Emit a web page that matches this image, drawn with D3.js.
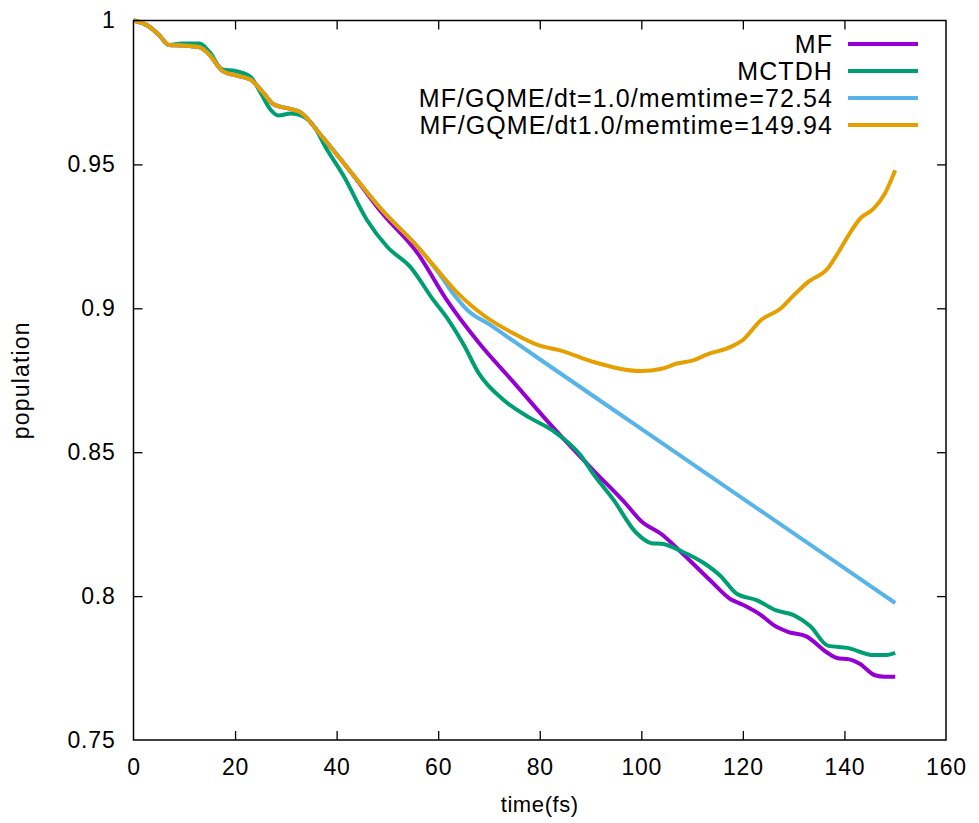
<!DOCTYPE html>
<html>
<head>
<meta charset="utf-8">
<script src="https://cdn.jsdelivr.net/npm/d3@7"></script>
<style>
  body { margin: 0; background: #fff; }
  text { font-family: "Liberation Sans", Arial, Helvetica, sans-serif; fill: #000; }
</style>
</head>
<body>
<script>
// Series data: time (fs) and population
const mfTime = [0, 3, 5, 7, 9.5, 13, 15, 17.5, 20, 23, 25.5, 27.5, 31, 33, 36.5, 42.5, 49, 56, 61.7, 68, 75, 81.5, 90.5, 97, 100, 104, 108, 113.5, 117.5, 120, 123.5, 126, 129, 132.5, 136.5, 138.5, 141, 143, 146, 148, 150];
const mfPop = [1.0, 0.998, 0.995, 0.9915, 0.9913, 0.9907, 0.988, 0.9825, 0.981, 0.9795, 0.975, 0.971, 0.9692, 0.968, 0.961, 0.948, 0.933, 0.919, 0.9028, 0.888, 0.874, 0.8608, 0.8438, 0.832, 0.826, 0.8215, 0.815, 0.8056, 0.799, 0.797, 0.7935, 0.790, 0.7875, 0.786, 0.7805, 0.7785, 0.778, 0.7765, 0.7725, 0.772, 0.772];

const mctdhTime = [0, 3, 5, 7, 9.5, 13, 15, 17.5, 20, 23, 25, 27, 28.5, 31, 33, 36, 37.5, 41.5, 46, 50, 54.5, 59, 62, 65, 68, 73, 78, 82.5, 88, 90.5, 94.5, 99, 102, 104, 108, 112.3, 115.6, 118.8, 122.7, 126.6, 130, 133.3, 136.7, 140.6, 145.8, 148, 150];
const mctdhPop = [1.0, 0.998, 0.995, 0.9915, 0.992, 0.992, 0.989, 0.983, 0.9825, 0.9805, 0.975, 0.969, 0.967, 0.9677, 0.967, 0.962, 0.957, 0.9456, 0.9306, 0.9213, 0.9144, 0.903, 0.896, 0.8874, 0.8774, 0.868, 0.862, 0.8576, 0.849, 0.8426, 0.8335, 0.822, 0.8184, 0.8182, 0.8155, 0.8115, 0.807, 0.8008, 0.7986, 0.795, 0.7934, 0.7895, 0.7828, 0.782, 0.7795, 0.7795, 0.7803];

const gqme72Time = [0, 3, 5, 7, 9.5, 13, 15, 17.5, 20, 23, 25.5, 27.5, 31, 33, 36.5, 42.5, 49, 56, 60, 63, 66, 70, 75, 80, 100, 120, 140, 150];
const gqme72Pop = [1.0, 0.998, 0.995, 0.9915, 0.9913, 0.9907, 0.988, 0.9825, 0.981, 0.9795, 0.975, 0.971, 0.9692, 0.968, 0.961, 0.948, 0.934, 0.9213, 0.9125, 0.905, 0.899, 0.8945, 0.8884, 0.8823, 0.8581, 0.8339, 0.8097, 0.7976];

const gqme150Time = [0, 3, 5, 7, 9.5, 13, 15, 17.5, 20, 23, 25.5, 27.5, 31, 33, 36.5, 42.5, 49, 56, 60, 64, 69, 74.8, 80, 84, 90.5, 100, 104, 107, 110, 113, 117.6, 120, 123.5, 127.5, 130, 132.8, 136.7, 139, 141.2, 143, 145.8, 148, 150];
const gqme150Pop = [1.0, 0.998, 0.995, 0.9915, 0.9913, 0.9907, 0.988, 0.9825, 0.981, 0.9795, 0.975, 0.971, 0.9692, 0.968, 0.961, 0.948, 0.934, 0.9213, 0.913, 0.905, 0.8975, 0.8913, 0.887, 0.8854, 0.8814, 0.8782, 0.879, 0.8808, 0.8818, 0.884, 0.8866, 0.889, 0.8958, 0.900, 0.9045, 0.9091, 0.9138, 0.920, 0.9265, 0.931, 0.9347, 0.940, 0.948];

const seriesNames = ["MF", "MCTDH", "MF/GQME/dt=1.0/memtime=72.54", "MF/GQME/dt1.0/memtime=149.94"];
const seriesColors = ["#9400d3", "#009e73", "#56b4e9", "#e69f00"];

const xTicks = [0, 20, 40, 60, 80, 100, 120, 140, 160];
const yTicks = [0.75, 0.8, 0.85, 0.9, 0.95, 1];

const series = [
    { name: seriesNames[0], color: seriesColors[0], values: mfTime.map((t, i) => ({ t, p: mfPop[i] })) },
    { name: seriesNames[1], color: seriesColors[1], values: mctdhTime.map((t, i) => ({ t, p: mctdhPop[i] })) },
    { name: seriesNames[2], color: seriesColors[2], values: gqme72Time.map((t, i) => ({ t, p: gqme72Pop[i] })) },
    { name: seriesNames[3], color: seriesColors[3], values: gqme150Time.map((t, i) => ({ t, p: gqme150Pop[i] })) }
];

// Layout
const W = 979, H = 823;
const margin = { top: 20.5, right: 33, bottom: 83, left: 133.5 };
const width = W - margin.left - margin.right;
const height = H - margin.top - margin.bottom;

const svg = d3.select("body").append("svg")
    .attr("width", W)
    .attr("height", H);

const g = svg.append("g")
    .attr("transform", `translate(${margin.left},${margin.top})`);

const x = d3.scaleLinear().domain([0, 160]).range([0, width]);
const y = d3.scaleLinear().domain([0.75, 1]).range([height, 0]);

// Clip lines to plot area
svg.append("clipPath").attr("id", "plotclip")
  .append("rect")
    .attr("x", 0).attr("y", -3)
    .attr("width", width).attr("height", height + 3);

const line = d3.line()
    .x(d => x(d.t))
    .y(d => y(d.p))
    .curve(d3.curveMonotoneX);

g.append("g")
    .attr("clip-path", "url(#plotclip)")
  .selectAll("path")
    .data(series)
    .enter()
    .append("path")
    .attr("d", d => line(d.values))
    .attr("fill", "none")
    .attr("stroke", d => d.color)
    .attr("stroke-width", 4)
    .attr("stroke-linejoin", "round")
    .attr("stroke-linecap", "butt");

// Axes with inward ticks on all four sides (gnuplot style)
const tickLen = 9;
const bottomAxis = d3.axisBottom(x).tickValues(xTicks).tickSizeInner(-tickLen).tickSizeOuter(0).tickPadding(19).tickFormat(d3.format("d"));
const topAxis = d3.axisTop(x).tickValues(xTicks).tickSizeInner(-tickLen).tickSizeOuter(0).tickFormat("");
const leftAxis = d3.axisLeft(y).tickValues(yTicks).tickSizeInner(-tickLen).tickSizeOuter(0).tickPadding(18).tickFormat(d => d === 1 ? "1" : d3.format(".2~f")(d));
const rightAxis = d3.axisRight(y).tickValues(yTicks).tickSizeInner(-tickLen).tickSizeOuter(0).tickFormat("");

function styleAxis(sel) {
    sel.select(".domain").remove();
    sel.selectAll(".tick line").attr("stroke", "#000").attr("stroke-width", 1.3);
    sel.selectAll(".tick text")
        .style("font-size", "23px")
        .style("letter-spacing", "0.8px")
        .attr("fill", "#000");
}

g.append("g").attr("transform", `translate(0,${height})`).call(bottomAxis).call(styleAxis);
g.append("g").call(topAxis).call(styleAxis);
g.append("g").call(leftAxis).call(styleAxis);
g.append("g").attr("transform", `translate(${width},0)`).call(rightAxis).call(styleAxis);

// drop the end ticks that sit on the border corners
g.selectAll(".tick").filter(d => d === 0 || d === 160 || d === 0.75 || d === 1).select("line").remove();

g.append("rect")
    .attr("width", width)
    .attr("height", height)
    .attr("fill", "none")
    .attr("stroke", "#000")
    .attr("stroke-width", 1.5);

// Axis titles
svg.append("text")
    .attr("x", margin.left + width / 2)
    .attr("y", 812)
    .attr("text-anchor", "middle")
    .style("font-size", "22px")
    .style("letter-spacing", "0.6px")
    .text("time(fs)");

svg.append("text")
    .attr("transform", `translate(29,${margin.top + height / 2}) rotate(-90)`)
    .attr("text-anchor", "middle")
    .style("font-size", "23px")
    .style("letter-spacing", "1.2px")
    .text("population");

// Legend (top right, text right-aligned)
const legend = svg.append("g").attr("transform", "translate(0,44)");
const rowH = 27;

const rows = legend.selectAll("g")
    .data(series)
    .enter()
    .append("g")
    .attr("transform", (d, i) => `translate(0,${i * rowH})`);

rows.append("text")
    .attr("x", 833)
    .attr("y", 0)
    .attr("dy", "0.36em")
    .attr("text-anchor", "end")
    .style("font-size", "25px")
    .style("letter-spacing", "1.1px")
    .text(d => d.name);

rows.append("line")
    .attr("x1", 848)
    .attr("x2", 918)
    .attr("y1", 0)
    .attr("y2", 0)
    .attr("stroke", d => d.color)
    .attr("stroke-width", 4);
</script>
</body>
</html>
